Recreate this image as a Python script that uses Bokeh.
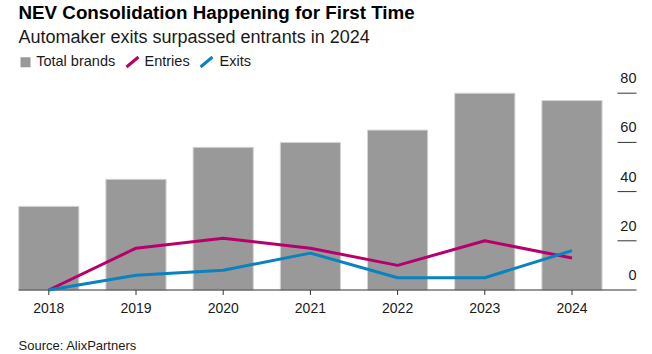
from bokeh.plotting import figure
from bokeh.models import Range1d, Label, BoxAnnotation, Arrow, ColumnDataSource
from bokeh.embed import file_html
from bokeh.resources import INLINE
from bokeh.core.properties import value

# ---------------- data ----------------
years = [2018, 2019, 2020, 2021, 2022, 2023, 2024]
year_labels = ["2018", "2019", "2020", "2021", "2022", "2023", "2024"]
total_brands = [34, 45, 58, 60, 65, 80, 77]
entries = [0, 17, 21, 17, 10, 20, 13]
exits = [0, 6, 8, 15, 5, 5, 16]
y_ticks = [20, 40, 60, 80]
y_tick_labels_all = ["0", "20", "40", "60", "80"]
y_tick_values_all = [0, 20, 40, 60, 80]

title = "NEV Consolidation Happening for First Time"
subtitle = "Automaker exits surpassed entrants in 2024"
source_note = "Source: AlixPartners"

# ---------------- layout ----------------
W, H = 652, 354
X0PX, XSTEP = 48.3, 87.2     # pixel of first year, pixels per year
Y0PX, YSCALE = 289.5, 2.46   # pixel of zero line, pixels per unit
FIX = 6.5                    # renderer's baseline shift correction (px)

BAR_COLOR = "#999999"
ENTRY_COLOR = "#b8006b"
EXIT_COLOR = "#0a82bf"
TEXT = "#1a1a1a"
FONT = "Liberation Sans"

x_range = Range1d(years[0] - X0PX / XSTEP, years[0] + (W - X0PX) / XSTEP)
y_range = Range1d(-(H - Y0PX) / YSCALE, Y0PX / YSCALE)

p = figure(width=W, height=H, x_range=x_range, y_range=y_range,
           x_axis_type=None, y_axis_type=None, min_border=0,
           toolbar_location=None, output_backend="svg",
           outline_line_color=None, background_fill_color="white",
           border_fill_color="white")

def px_to_x(px):
    return years[0] + (px - X0PX) / XSTEP

src = ColumnDataSource(dict(year=years, label=year_labels, total=total_brands,
                            entries=entries, exits=exits))

# bars
p.vbar(x="year", top="total", width=0.69, source=src,
       fill_color=BAR_COLOR, line_color="#d4d4d4", line_width=1)

# baseline
p.segment(x0=[px_to_x(18)], y0=[0], x1=[px_to_x(636)], y1=[0],
          line_color="#333333", line_width=1)

# x ticks
tick_len = 5 / YSCALE
p.segment(x0="year", y0=0, x1="year", y1=-tick_len, source=src,
          line_color="#333333", line_width=1)

# lines
p.line(x="year", y="entries", source=src, line_color=ENTRY_COLOR, line_width=3)
p.line(x="year", y="exits", source=src, line_color=EXIT_COLOR, line_width=3)

# x tick labels
p.text(x="year", y=0, text="label", source=src, y_offset=24.5 - FIX,
       text_align="center", text_baseline="alphabetic",
       text_font=value(FONT), text_font_size="14px", text_color=TEXT)

# right-hand value gridlines and labels
gx0, gx1 = px_to_x(617), px_to_x(636)
p.segment(x0=[gx0] * len(y_ticks), y0=y_ticks, x1=[gx1] * len(y_ticks), y1=y_ticks,
          line_color="#333333", line_width=1)
p.text(x=[gx1] * len(y_tick_values_all), y=y_tick_values_all, text=y_tick_labels_all,
       y_offset=-8.5 - FIX, text_align="right", text_baseline="alphabetic",
       text_font=value(FONT), text_font_size="14.5px", text_color=TEXT)

# titles
p.add_layout(Label(x=18, y=H - 18.5 + FIX, x_units="screen", y_units="screen", text=title,
                   text_font=FONT, text_font_style="bold", text_font_size="18.8px",
                   text_color="#000000", text_baseline="alphabetic"))
p.add_layout(Label(x=18, y=H - 42.5 + FIX, x_units="screen", y_units="screen", text=subtitle,
                   text_font=FONT, text_font_size="18px",
                   text_color=TEXT, text_baseline="alphabetic"))

# legend
p.add_layout(BoxAnnotation(left=20, right=30, bottom=H - 66.7, top=H - 56.7,
                           left_units="screen", right_units="screen",
                           bottom_units="screen", top_units="screen",
                           fill_color=BAR_COLOR, fill_alpha=1, line_color=None))
for x0, col in [(126, ENTRY_COLOR), (200, EXIT_COLOR)]:
    p.add_layout(Arrow(end=None, x_start=x0, y_start=H - 66.5, x_end=x0 + 12, y_end=H - 56.5,
                       start_units="screen", end_units="screen",
                       line_color=col, line_width=3))
for x0, t in [(35.7, "Total brands"), (144, "Entries"), (219, "Exits")]:
    p.add_layout(Label(x=x0, y=H - 66.5 + FIX, x_units="screen", y_units="screen", text=t,
                       text_font=FONT, text_font_size="14.5px",
                       text_color=TEXT, text_baseline="alphabetic"))

# source
p.add_layout(Label(x=18, y=H - 351 + FIX, x_units="screen", y_units="screen", text=source_note,
                   text_font=FONT, text_font_size="13px",
                   text_color=TEXT, text_baseline="alphabetic"))

open("out.html", "w").write(file_html(p, INLINE))
